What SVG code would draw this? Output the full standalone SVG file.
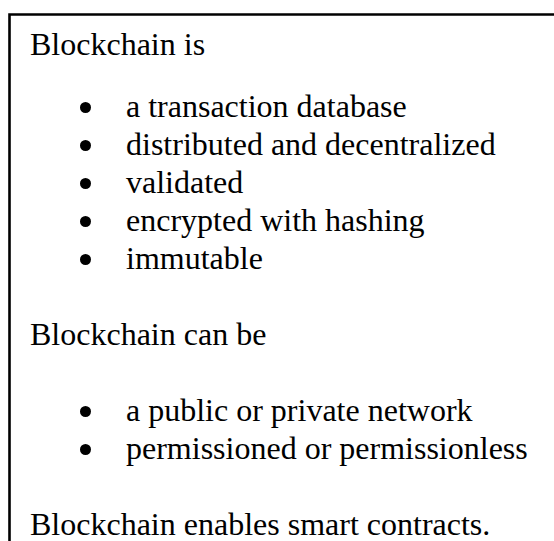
<svg xmlns="http://www.w3.org/2000/svg" width="554" height="541" viewBox="0 0 554 541">
<style>
text{font-family:"Liberation Serif","Times New Roman",serif;font-size:32px;fill:#000}
.b{fill:#000}
</style>
<rect width="554" height="541" fill="#fff"/>
<g id="textbox">
<path d="M9.5 560 V14.5 H560" fill="none" stroke="#000" stroke-width="2.6"/>
<text x="30" y="55">Blockchain is</text>
<circle class="b" cx="85.5" cy="107.5" r="5.5"/>
<circle class="b" cx="85.5" cy="145.5" r="5.5"/>
<circle class="b" cx="85.5" cy="183.5" r="5.5"/>
<circle class="b" cx="85.5" cy="221.5" r="5.5"/>
<circle class="b" cx="85.5" cy="259.5" r="5.5"/>
<text x="126" y="117">a transaction database</text>
<text x="126" y="155">distributed and decentralized</text>
<text x="126" y="193">validated</text>
<text x="126" y="231">encrypted with hashing</text>
<text x="126" y="269">immutable</text>
<text x="30" y="345">Blockchain can be</text>
<circle class="b" cx="85.5" cy="411.5" r="5.5"/>
<circle class="b" cx="85.5" cy="449.5" r="5.5"/>
<text x="126" y="421">a public or private network</text>
<text x="126" y="459">permissioned or permissionless</text>
<text x="30" y="535">Blockchain enables smart contracts.</text>
</g>
<g id="connectors"/>
</svg>
